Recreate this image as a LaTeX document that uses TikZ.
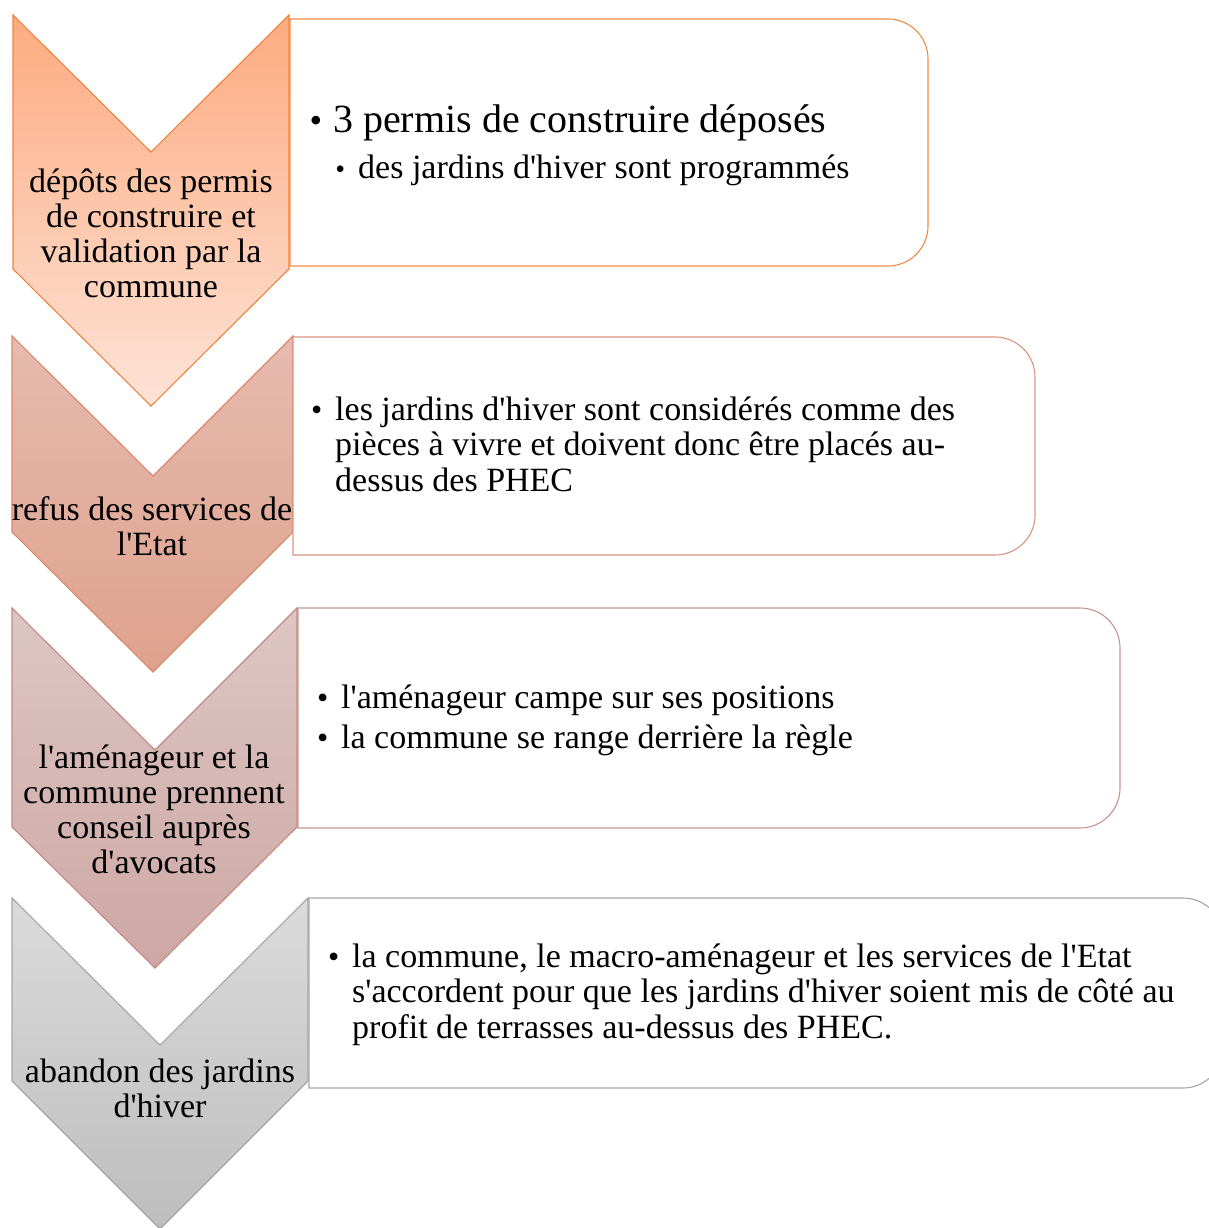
\documentclass[tikz,border=0pt]{standalone}
\usepackage{fontspec}
\setmainfont{Liberation Serif}
\definecolor{c1top}{HTML}{FDAB80}
\definecolor{c1bot}{HTML}{FDE3D7}
\definecolor{c1line}{HTML}{EF8440}
\definecolor{b1line}{HTML}{F08B45}
\definecolor{c2top}{HTML}{E6BBAE}
\definecolor{c2bot}{HTML}{DFA18E}
\definecolor{c2line}{HTML}{D8896E}
\definecolor{b2line}{HTML}{DA957F}
\definecolor{c3top}{HTML}{DDC6C5}
\definecolor{c3bot}{HTML}{CDA7A3}
\definecolor{c3line}{HTML}{C08A84}
\definecolor{b3line}{HTML}{C8968F}
\definecolor{c4top}{HTML}{DBDBDB}
\definecolor{c4bot}{HTML}{BDBDBD}
\definecolor{c4line}{HTML}{A6A6A6}
\newcommand\apo{\textquotesingle}
\newcommand\mybul[2]{\makebox[0pt][r]{{\fontsize{#1}{#1}\selectfont •}\hspace{#2}}}
\begin{document}
\begin{tikzpicture}[x=1pt,y=1pt,
  chev/.style={line width=1.1pt},
  boxshape/.style={line width=1.1pt, fill=white},
  ctext/.style={align=center, anchor=base, inner sep=0pt, font=\fontsize{34}{35}\selectfont},
  btext/.style={align=left, anchor=base west, inner sep=0pt, font=\fontsize{34}{35.5}\selectfont}]
\useasboundingbox (0,0) rectangle (1209,-1228);
% step 1
\shadedraw[chev, top color=c1top, bottom color=c1bot, draw=c1line]
  (13,-15) -- (151,-152) -- (289,-15) -- (289,-269) -- (151,-406) -- (13,-269) -- cycle;
\draw[boxshape, draw=b1line] (290,-19) -- (888,-19) arc[start angle=90,end angle=0,radius=40]
  -- (928,-226) arc[start angle=0,end angle=-90,radius=40] -- (290,-266) -- cycle;
\node[ctext] (t1) at (151,-297) {dépôts des permis\\de construire et\\validation par la\\commune};
\node[btext, font=\fontsize{40}{40}\selectfont] (b1a) at (333,-132) {\mybul{36}{11pt}3 permis de construire déposés};
\node[btext] (b1b) at (358,-178) {\mybul{28}{13pt}des jardins d\apo hiver sont programmés};
% step 2
\shadedraw[chev, top color=c2top, bottom color=c2bot, draw=c2line]
  (12,-336) -- (153,-476) -- (293,-336) -- (293,-532) -- (153,-672) -- (12,-532) -- cycle;
\draw[boxshape, draw=b2line] (293,-337) -- (995,-337) arc[start angle=90,end angle=0,radius=40]
  -- (1035,-515) arc[start angle=0,end angle=-90,radius=40] -- (293,-555) -- cycle;
\node[ctext] (t2) at (152,-555) {refus des services de\\l\apo Etat};
\node[btext] (b2) at (335,-491) {\mybul{32}{13pt}les jardins d\apo hiver sont considérés comme des\\pièces à vivre et doivent donc être placés au-\\dessus des PHEC};
% step 3
\shadedraw[chev, top color=c3top, bottom color=c3bot, draw=c3line]
  (12,-608) -- (155,-750) -- (297,-608) -- (297,-827) -- (155,-968) -- (12,-827) -- cycle;
\draw[boxshape, draw=b3line] (298,-608) -- (1080,-608) arc[start angle=90,end angle=0,radius=40]
  -- (1120,-788) arc[start angle=0,end angle=-90,radius=40] -- (298,-828) -- cycle;
\node[ctext] (t3) at (154,-873) {l\apo aménageur et la\\commune prennent\\conseil auprès\\d\apo avocats};
\node[btext] (b3a) at (341,-708) {\mybul{32}{13pt}l\apo aménageur campe sur ses positions};
\node[btext] (b3b) at (341,-748) {\mybul{32}{13pt}la commune se range derrière la règle};
% step 4
\shadedraw[chev, top color=c4top, bottom color=c4bot, draw=c4line]
  (12,-898) -- (160,-1045) -- (308,-898) -- (308,-1081) -- (160,-1229) -- (12,-1081) -- cycle;
\draw[boxshape, draw=c4line] (309,-898) -- (1183,-898) arc[start angle=90,end angle=0,radius=40]
  -- (1223,-1048) arc[start angle=0,end angle=-90,radius=40] -- (309,-1088) -- cycle;
\node[ctext] (t4) at (160,-1117) {abandon des jardins\\d\apo hiver};
\node[btext] (b4) at (352,-1038) {\mybul{32}{13pt}la commune, le macro-aménageur et les services de l\apo Etat\\s\apo accordent pour que les jardins d\apo hiver soient mis de côté au\\profit de terrasses au-dessus des PHEC.};
\end{tikzpicture}
\end{document}
